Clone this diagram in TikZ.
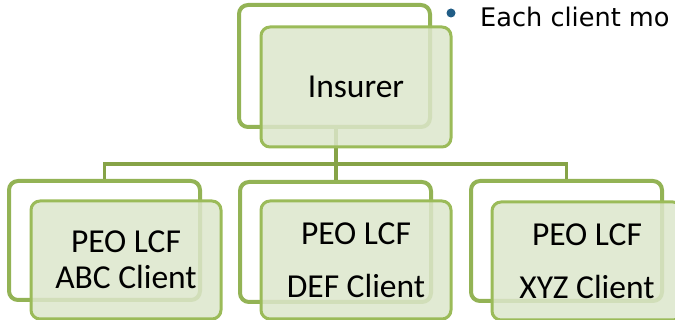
\documentclass[tikz,border=0pt]{standalone}
\usepackage{fontspec}
\setmainfont{Carlito}
\newfontfamily\bulletfont{DejaVu Sans}
\definecolor{frameg}{HTML}{93B355}
\definecolor{boxg}{HTML}{9BBB59}
\definecolor{fillg}{HTML}{DCE6CB}
\definecolor{lineg}{HTML}{86A347}
\definecolor{dotb}{HTML}{215D86}
\tikzset{
  backframe/.style={draw=frameg, line width=4pt, rounded corners=9pt, fill=none, minimum width=191pt, minimum height=120pt, inner sep=0pt},
  frontbox/.style={draw=boxg, line width=3pt, rounded corners=9pt, fill=fillg, fill opacity=0.85, text opacity=1, minimum width=190pt, minimum height=118pt, inner sep=0pt, align=center},
  conn/.style={draw=lineg, line width=3.4pt},
  lblA/.style={font=\fontsize{33.5}{36}\selectfont},
  lblB/.style={font=\fontsize{33.5}{53}\selectfont}
}
\begin{document}
\begin{tikzpicture}[x=1pt,y=-1pt]
\useasboundingbox (0,0) rectangle (675,320);
\clip (0,0) rectangle (675,320);
% back frames
\node[backframe, minimum height=122pt] (insb) at (334.5,66) {};
\node[backframe, minimum height=119pt] (abcb) at (104.5,240.5) {};
\node[backframe] (defb) at (335.5,242) {};
\node[backframe] (xyzb) at (566.5,241) {};
% connectors
\coordinate (bus) at (336,164);
\draw[conn] (insb.south -| bus) -- (bus);
\draw[conn] (bus) -| (abcb.north);
\draw[conn] (bus) -| (xyzb.north);
\draw[conn] (bus) -- (defb.north -| bus);
% front boxes
\node[frontbox, minimum height=120pt] (ins) at (356,87) {};
\node[frontbox] (abc) at (126,260) {};
\node[frontbox] (def) at (356,260) {};
\node[frontbox] (xyz) at (587,261) {};
% labels
\node[lblA] (inst) at (ins.center) {Insurer};
\node[lblA, align=center] (abct) at (abc.center) {PEO LCF\\ABC Client};
\node[lblB, align=center] (deft) at (def.center) {PEO LCF\\DEF Client};
\node[lblB, align=center] (xyzt) at (xyz.center) {PEO LCF\\XYZ Client};
% bullet text
\fill[dotb] (451,13) circle (4.5pt);
\node[anchor=base west, inner sep=0pt, font=\bulletfont\fontsize{25.6}{30}\selectfont] (each) at (480,27) {Each client mo};
\end{tikzpicture}
\end{document}
